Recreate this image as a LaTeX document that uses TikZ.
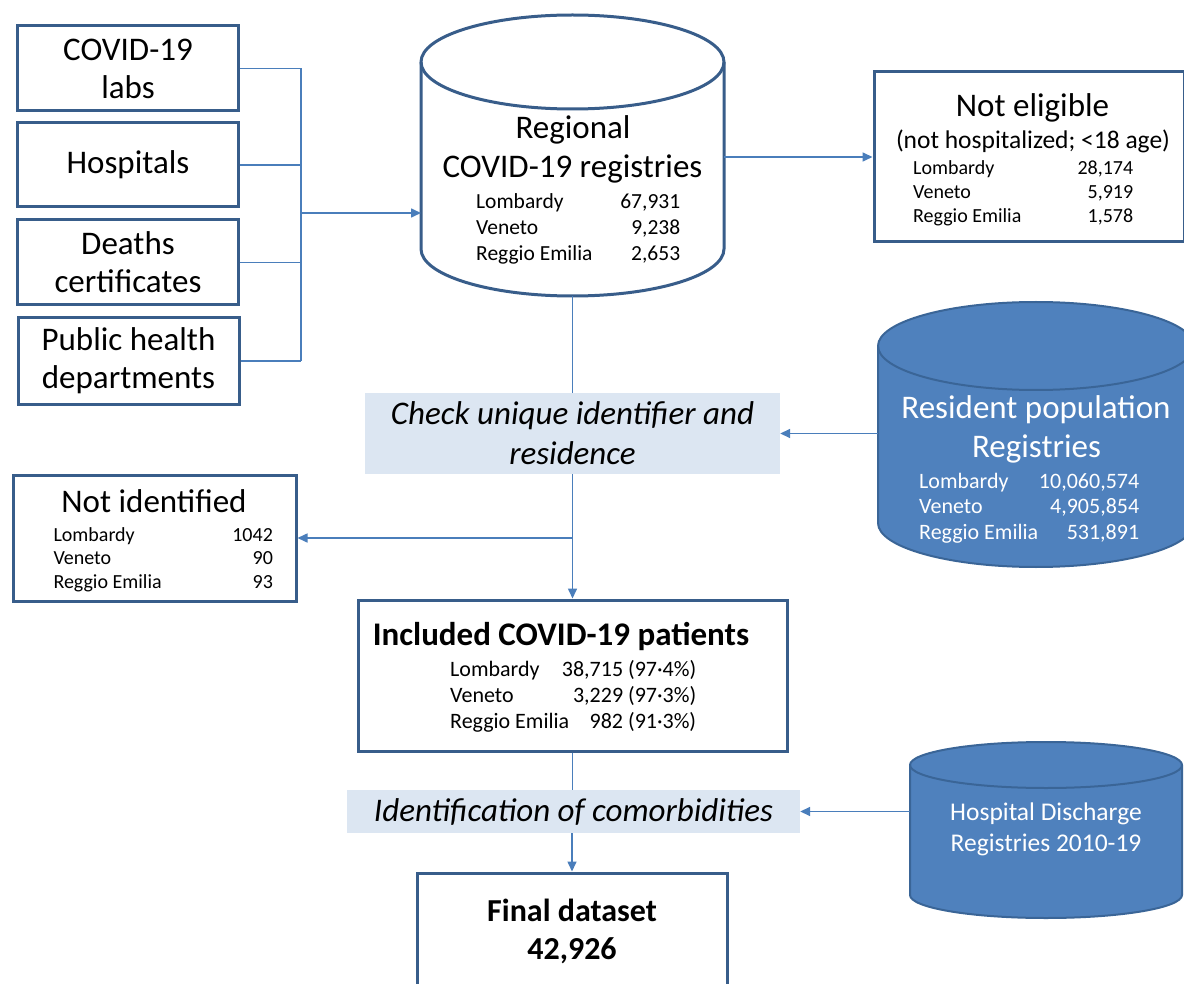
\documentclass[tikz,border=0pt]{standalone}
\usepackage{fontspec}
\setmainfont{Carlito}
\usetikzlibrary{positioning,arrows.meta}
\definecolor{boxblue}{HTML}{385D8A}
\definecolor{linkblue}{HTML}{4A7EBB}
\definecolor{cylblue}{HTML}{4F81BD}
\definecolor{cyledge}{HTML}{3A6597}
\definecolor{steplight}{HTML}{DCE6F2}
% three rows of counts: prefix, x, first baseline, width, gap, counts, size
\newcommand\regionrows[9]{
  \node[row,font=\fontsize{#9}{#9}\selectfont] (#1a) at (#2,-#3) {\makebox[#4pt]{Lombardy\hfill #6}};
  \node[row,font=\fontsize{#9}{#9}\selectfont] (#1b) at (#2,-#3-#5) {\makebox[#4pt]{Veneto\hfill #7}};
  \node[row,font=\fontsize{#9}{#9}\selectfont] (#1c) at (#2,-#3-2*#5) {\makebox[#4pt]{Reggio Emilia\hfill #8}};
}
% cylinder round a node: node, x radius, y radius, style
\newcommand\drawcyl[4]{
  \draw[#4] ([yshift=-#3pt]#1.north west) -- ([yshift=#3pt]#1.south west)
    arc[start angle=180,end angle=360,x radius=#2pt,y radius=#3pt]
    -- ([yshift=-#3pt]#1.north east)
    arc[start angle=0,end angle=180,x radius=#2pt,y radius=#3pt] -- cycle;
  \draw[#4,fill=none] ([yshift=-#3pt]#1.north west)
    arc[start angle=180,end angle=360,x radius=#2pt,y radius=#3pt];
}

\begin{document}
\begin{tikzpicture}[
    x=1pt,y=1pt,
    box/.style={draw=boxblue,line width=3pt,fill=white,inner sep=0pt,align=center},
    source/.style={box,minimum width=221pt,font=\fontsize{33}{38}\selectfont},
    steplabel/.style={fill=steplight,inner sep=0pt,align=center,font=\fontsize{33}{40}\selectfont\itshape},
    cylbox/.style={inner sep=0pt,outer sep=0pt},
    title/.style={anchor=base,inner sep=0pt,font=\fontsize{33}{38}\selectfont},
    row/.style={anchor=base west,inner sep=0pt},
    link/.style={draw=linkblue,line width=1.6pt},
    arr/.style={link,-{Triangle[length=10pt,width=9pt]}}
  ]
  \useasboundingbox (0,0) rectangle (1184,-984);
  \fill[white] (0,0) rectangle (1184,-984);

  % sources
  \node[source,minimum height=85pt] (labs) at (128,-68.5) {COVID-19\\labs};
  \node[source,minimum height=84pt] (hospitals) at (128,-165) {Hospitals};
  \node[source,minimum height=85pt] (deaths) at (128,-262.5) {Deaths\\certificates};
  \node[source,minimum height=86pt] (pubhealth) at (128.5,-361) {Public health\\departments};
  \coordinate (hub) at (301,-213);

  % regional registries
  \node[cylbox,minimum width=303pt,minimum height=281pt] (reg) at (572.5,-155.5) {};
  \drawcyl{reg}{151.5}{47}{draw=boxblue,line width=3pt,fill=white}
  \node[title] (regt1) at (573,-139) {Regional};
  \node[title] (regt2) at (572.5,-178) {COVID-19 registries};
  \regionrows{regr}{476}{209}{204}{26}{67,931}{9,238}{2,653}{21.5}

  % not eligible
  \node[box,minimum width=310pt,minimum height=170pt] (noteli) at (1029,-157) {};
  \node[title] (notelit1) at (1032.5,-117) {Not eligible};
  \node[title,font=\fontsize{25.5}{30}\selectfont] (notelit2) at (1033,-149) {(not hospitalized; <18 age)};
  \regionrows{notelir}{913}{175}{220}{24}{28,174}{5,919}{1,578}{20}

  % check step and resident population
  \node[steplabel,minimum width=415pt,minimum height=81pt] (check) at (572.5,-433.5) {Check unique identifier and\\residence};
  \node[cylbox,minimum width=316pt,minimum height=265pt] (res) at (1036,-434.5) {};
  \drawcyl{res}{158}{44}{draw=cyledge,line width=2pt,fill=cylblue}
  \begin{scope}[text=white]
    \node[title] (rest1) at (1036,-418) {Resident population};
    \node[title] (rest2) at (1036.5,-457) {Registries};
    \regionrows{resr}{919}{488}{220}{25.5}{10,060,574}{4,905,854}{531,891}{22}
  \end{scope}

  % not identified
  \node[box,minimum width=283pt,minimum height=126pt] (notid) at (154.5,-538) {};
  \node[title] (notidt) at (154,-512) {Not identified};
  \regionrows{notidr}{53.3}{541}{219.4}{23.5}{1042}{90}{93}{20}

  % included patients
  \node[box,minimum width=429pt,minimum height=151pt] (incl) at (572.5,-675.5) {};
  \node[title,font=\fontsize{33}{38}\selectfont\bfseries] (inclt) at (561,-645) {Included COVID-19 patients};
  \regionrows{inclr}{450}{676}{246}{26}{38,715 (97·4\%)}{3,229 (97·3\%)}{982 (91·3\%)}{22}

  % comorbidities and final dataset
  \node[steplabel,minimum width=453pt,minimum height=43pt] (ident) at (573.5,-811.5) {Identification of comorbidities};
  \node[cylbox,minimum width=272pt,minimum height=176pt] (hdr) at (1046,-830) {};
  \drawcyl{hdr}{136}{23}{draw=cyledge,line width=2pt,fill=cylblue}
  \node[text=white,align=center,font=\fontsize{25.5}{31}\selectfont] (hdrt) at (1046,-829) {Hospital Discharge\\Registries 2010-19};
  \node[box,minimum width=310pt,minimum height=116pt,font=\fontsize{32}{38}\selectfont\bfseries] (final) at (572,-931) {Final dataset\\42,926};

  % connectors
  \draw[link] (labs.east) -- (labs.east -| hub);
  \draw[link] (hospitals.east) -- (hospitals.east -| hub);
  \draw[link] (deaths.east) -- (deaths.east -| hub);
  \draw[link] (pubhealth.east) -- (pubhealth.east -| hub);
  \draw[link] (labs.east -| hub) -- (pubhealth.east -| hub);
  \draw[arr] (hub) -- (hub -| reg.west);
  \draw[arr] (reg.east |- noteli.west) -- (noteli.west);
  \draw[link] (reg.south) -- (check.north);
  \draw[arr] (res.west |- check.east) -- (check.east);
  \draw[arr] (check.south) -- (incl.north);
  \draw[arr] (check.south |- notid.east) -- (notid.east);
  \draw[link] (incl.south) -- (incl.south |- ident.north);
  \draw[arr] (hdr.west |- ident.east) -- (ident.east);
  \draw[arr] (final.north |- ident.south) -- (final.north);
\end{tikzpicture}
\end{document}
